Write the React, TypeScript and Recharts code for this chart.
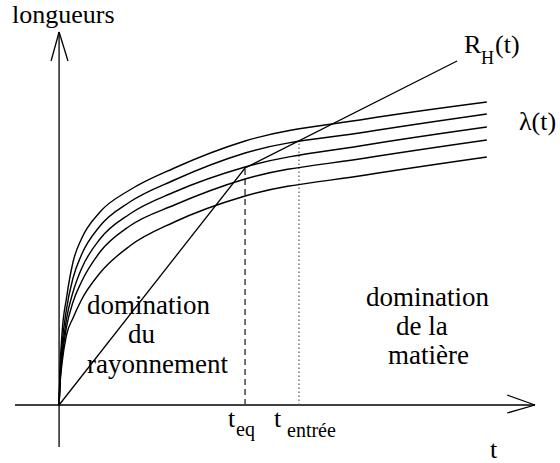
import { ComposedChart, Line, XAxis, YAxis, ReferenceLine } from 'recharts';

// temps (unité : t_eq = 1) commun aux cinq courbes λ(t)
const times = [0, 0.005, 0.016, 0.04, 0.075, 0.12, 0.22, 0.38, 0.62, 1.0, 1.65, 2.3];
const lambda1 = [0, 0.35, 0.72, 1.07, 1.43, 1.66, 1.93, 2.15, 2.37, 2.64, 2.86, 3.03];
const lambda2 = [0, 0.29, 0.6, 0.96, 1.27, 1.5, 1.79, 2.03, 2.25, 2.52, 2.73, 2.91];
const lambda3 = [0, 0.25, 0.52, 0.86, 1.13, 1.36, 1.66, 1.91, 2.13, 2.38, 2.6, 2.78];
const lambda4 = [0, 0.22, 0.47, 0.78, 1.03, 1.23, 1.53, 1.79, 2.0, 2.26, 2.47, 2.65];
const lambda5 = [0, 0.2, 0.42, 0.7, 0.87, 1.05, 1.32, 1.59, 1.83, 2.09, 2.3, 2.48];

// rayon de Hubble R_H(t)
const hubbleT = [0, 1.0, 2.14];
const hubbleR = [0, 2.37, 3.44];

const tEq = 1.0;
const tEntree = 1.29;
const entreeTop = 2.63;

const xRange = [-0.237, 2.559];
const yRange = [-0.42, 3.73];

const lambdas = [lambda1, lambda2, lambda3, lambda4, lambda5];
const lambdaData = lambdas.map((serie) => times.map((t, i) => ({ t, v: serie[i] })));
const hubbleData = hubbleT.map((t, i) => ({ t, v: hubbleR[i] }));

const ink = '#000';
const serif = {
  fontFamily: "'Times New Roman', Times, 'Liberation Serif', 'DejaVu Serif', 'Noto Serif', serif",
};

export default function App() {
  return (
    <div style={{ position: 'absolute', left: 0, top: 0, width: 560, height: 463, background: '#fff' }}>
      <ComposedChart width={560} height={463} margin={{ top: 32, right: 25, bottom: 16, left: 15 }}>
        <XAxis type="number" dataKey="t" domain={xRange} allowDataOverflow hide />
        <YAxis type="number" dataKey="v" domain={yRange} allowDataOverflow hide />

        {/* axes avec flèches */}
        <ReferenceLine segment={[{ x: xRange[0], y: 0 }, { x: xRange[1], y: 0 }]} stroke={ink} strokeWidth={1.3} ifOverflow="visible" />
        <ReferenceLine segment={[{ x: 2.409, y: 0.1 }, { x: xRange[1], y: 0 }]} stroke={ink} strokeWidth={1.3} ifOverflow="visible" />
        <ReferenceLine segment={[{ x: 2.409, y: -0.08 }, { x: xRange[1], y: 0 }]} stroke={ink} strokeWidth={1.3} ifOverflow="visible" />
        <ReferenceLine segment={[{ x: 0, y: yRange[0] }, { x: 0, y: yRange[1] }]} stroke={ink} strokeWidth={1.3} ifOverflow="visible" />
        <ReferenceLine segment={[{ x: -0.043, y: 3.44 }, { x: 0, y: yRange[1] }]} stroke={ink} strokeWidth={1.3} ifOverflow="visible" />
        <ReferenceLine segment={[{ x: 0.048, y: 3.44 }, { x: 0, y: yRange[1] }]} stroke={ink} strokeWidth={1.3} ifOverflow="visible" />

        {/* t_eq et t_entrée */}
        <ReferenceLine segment={[{ x: tEq, y: 0 }, { x: tEq, y: hubbleR[1] }]} stroke="#444" strokeWidth={1.5} strokeDasharray="6 4" ifOverflow="visible" />
        <ReferenceLine segment={[{ x: tEntree, y: 0 }, { x: tEntree, y: entreeTop }]} stroke="#555" strokeWidth={1.2} strokeDasharray="1.5 2.5" ifOverflow="visible" />

        {lambdaData.map((d, i) => (
          <Line
            key={i}
            data={d}
            dataKey="v"
            type="monotone"
            stroke={ink}
            strokeWidth={1.4}
            dot={false}
            isAnimationActive={false}
          />
        ))}
        <Line data={hubbleData} dataKey="v" type="linear" stroke={ink} strokeWidth={1.3} dot={false} isAnimationActive={false} />
      </ComposedChart>

      <svg width={560} height={463} style={{ position: 'absolute', left: 0, top: 0, pointerEvents: 'none' }} fill={ink}>
        <text x={12} y={23} fontSize={26} style={serif}>longueurs</text>

        <text x={464} y={53} fontSize={26} style={serif}>R</text>
        <text x={481} y={64} fontSize={18} style={serif}>H</text>
        <text x={495} y={53} fontSize={26} style={serif}>(t)</text>

        <text x={519} y={130} fontSize={26} style={serif}>λ(t)</text>

        <text x={87} y={314} fontSize={27} style={serif}>domination</text>
        <text x={128} y={343} fontSize={27} style={serif}>du</text>
        <text x={87} y={373} fontSize={27} style={serif}>rayonnement</text>

        <text x={366} y={306} fontSize={27} style={serif}>domination</text>
        <text x={396} y={335} fontSize={27} style={serif}>de la</text>
        <text x={388} y={364} fontSize={27} style={serif}>matière</text>

        <text x={228} y={427} fontSize={26} style={serif}>t</text>
        <text x={236} y={436} fontSize={20} style={serif}>eq</text>
        <text x={274} y={427} fontSize={26} style={serif}>t</text>
        <text x={287} y={437} fontSize={20} style={serif}>entrée</text>

        <text x={490} y={458} fontSize={26} style={serif}>t</text>
      </svg>
    </div>
  );
}
